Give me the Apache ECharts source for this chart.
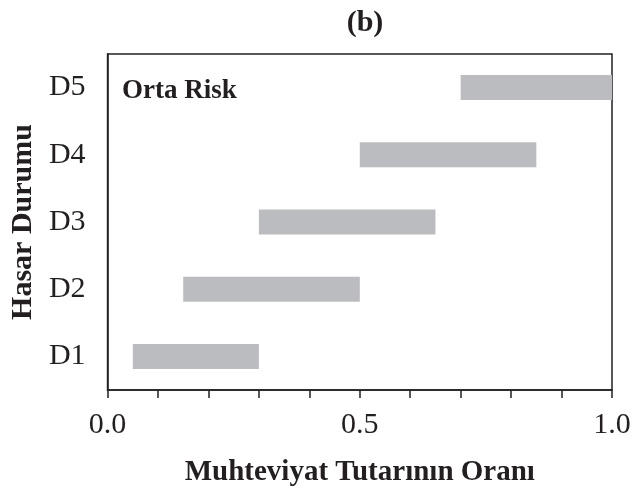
<!DOCTYPE html>
<html>
<head>
<meta charset="utf-8">
<script src="https://cdn.jsdelivr.net/npm/echarts@6/dist/echarts.min.js"></script>
<style>
  html, body { margin: 0; padding: 0; background: #ffffff; }
  #chart { width: 644px; height: 492px; }
</style>
</head>
<body>
<div id="chart"></div>
<script>
// Damage states and the range of content-loss ratio each one covers
const damageStates = ['D1', 'D2', 'D3', 'D4', 'D5'];
const rangeStart = [0.05, 0.15, 0.30, 0.50, 0.70];
const rangeEnd   = [0.30, 0.50, 0.65, 0.85, 1.00];
const xTickLabels = [0, 0.5, 1];

const ink = '#231f20';
const serif = '"Liberation Serif", "Times New Roman", serif';

// Floating bars: an invisible base up to the start, then the visible span
const spanLength = rangeEnd.map((e, i) => +(e - rangeStart[i]).toFixed(2));

const chart = echarts.init(document.getElementById('chart'), null, { renderer: 'canvas' });

chart.setOption({
  animation: false,
  backgroundColor: '#ffffff',
  title: [
    {
      text: '(b)',
      left: 360, top: 3, textAlign: 'center',
      textStyle: { fontFamily: serif, fontWeight: 'bold', fontSize: 30, color: ink }
    },
    {
      text: 'Orta Risk',
      left: 117, top: 73,
      textStyle: { fontFamily: serif, fontWeight: 'bold', fontSize: 27, color: ink }
    }
  ],
  grid: {
    left: 106, right: 32, top: 54, bottom: 100,
    show: true,
    borderColor: ink, borderWidth: 1.5,
    backgroundColor: 'transparent'
  },
  xAxis: {
    type: 'value',
    min: 0, max: 1, interval: 0.1,
    name: 'Muhteviyat Tutarının Oranı',
    nameLocation: 'middle',
    nameGap: 68,
    nameTextStyle: { fontFamily: serif, fontWeight: 'bold', fontSize: 29, color: ink },
    axisLine: { show: true, lineStyle: { color: ink, width: 1.5 } },
    axisTick: { show: true, inside: false, length: 8, lineStyle: { color: ink, width: 1.5 } },
    splitLine: { show: false },
    axisLabel: {
      fontFamily: serif, fontSize: 30, color: ink, margin: 20,
      formatter: v => {
        const hit = xTickLabels.find(t => Math.abs(t - v) < 1e-9);
        return hit === undefined ? '' : hit.toFixed(1);
      }
    }
  },
  yAxis: {
    type: 'category',
    data: damageStates,
    name: 'Hasar Durumu',
    nameLocation: 'middle',
    nameGap: 63,
    nameTextStyle: { fontFamily: serif, fontWeight: 'bold', fontSize: 30, color: ink },
    axisLine: { show: true, lineStyle: { color: ink, width: 1.5 } },
    axisTick: { show: false },
    splitLine: { show: false },
    axisLabel: { fontFamily: serif, fontSize: 30, color: ink, margin: 22 }
  },
  series: [
    {
      type: 'bar',
      stack: 'range',
      data: rangeStart,
      barWidth: 25,
      itemStyle: { color: 'transparent' },
      silent: true
    },
    {
      type: 'bar',
      stack: 'range',
      data: spanLength,
      barWidth: 25,
      itemStyle: { color: '#bbbcc0' },
      z: 5
    }
  ]
});
</script>
</body>
</html>
